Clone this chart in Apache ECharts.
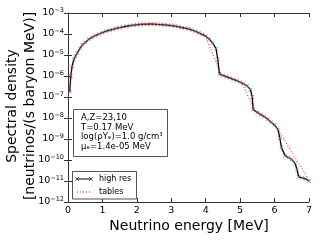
<!DOCTYPE html>
<html><head><meta charset="utf-8">
<script src="https://cdn.jsdelivr.net/npm/echarts@6/dist/echarts.min.js"></script>
<style>html,body{margin:0;padding:0;background:#fff}#c{width:320px;height:240px}</style>
</head><body><div id="c"></div>
<script>
// High resolution spectrum: energy [MeV] and spectral density
var hiE = [0.05,0.08,0.12,0.17,0.22,0.27,0.35,0.42,0.5,0.61,0.7,0.8,0.9,1.0,1.1,1.2,1.3,1.4,1.5,1.6,1.7,1.8,1.9,2.0,2.1,2.2,2.3,2.4,2.5,2.6,2.7,2.8,2.9,3.0,3.1,3.2,3.3,3.4,3.5,3.6,3.7,3.8,3.9,4.0,4.1,4.2,4.3,4.35,4.4,4.5,4.6,4.7,4.8,4.9,5.0,5.1,5.2,5.3,5.35,5.38,5.5,5.6,5.7,5.8,5.9,6.0,6.1,6.15,6.2,6.3,6.4,6.5,6.6,6.65,6.7,6.8,6.9,7.0];
var hiY = [1.78e-7,1.0e-6,2.95e-6,6.03e-6,8.91e-6,1.26e-5,2.09e-5,3.09e-5,3.98e-5,5.75e-5,6.92e-5,8.51e-5,1.0e-4,1.17e-4,1.35e-4,1.51e-4,1.66e-4,1.86e-4,2.0e-4,2.19e-4,2.34e-4,2.51e-4,2.63e-4,2.75e-4,2.88e-4,2.95e-4,2.95e-4,3.02e-4,2.95e-4,2.88e-4,2.82e-4,2.75e-4,2.63e-4,2.51e-4,2.40e-4,2.24e-4,2.04e-4,1.91e-4,1.74e-4,1.55e-4,1.35e-4,1.15e-4,9.55e-5,7.94e-5,5.75e-5,3.72e-5,2.0e-5,6.31e-6,1.26e-6,1.07e-6,9.33e-7,8.13e-7,6.92e-7,6.03e-7,5.13e-7,4.27e-7,3.39e-7,2.24e-7,1.0e-7,2.51e-8,1.86e-8,1.45e-8,1.17e-8,8.71e-9,6.31e-9,4.68e-9,2.82e-9,1.12e-9,3.98e-10,1.66e-10,1.32e-10,1.05e-10,6.76e-11,3.55e-11,1.58e-11,1.41e-11,1.26e-11,1.0e-11];
// Table-interpolated spectrum
var tabE = [0.06,0.1,0.2,0.35,0.5,0.75,1.0,1.5,2.0,2.5,3.0,3.5,4.0,4.45,4.75,5.05,5.42,5.75,6.07,7.0];
var tabY = [2.0e-7,1.78e-6,7.59e-6,2.0e-5,3.8e-5,7.41e-5,1.15e-4,2.0e-4,2.75e-4,2.95e-4,2.51e-4,1.7e-4,7.59e-5,1.12e-6,7.59e-7,4.68e-7,2.24e-8,1.0e-8,3.31e-9,1.12e-11];
var xTicks = [0,1,2,3,4,5,6,7];
var yExps = [-3,-4,-5,-6,-7,-8,-9,-10,-11,-12];
var infoLines = ['A,Z=23,10','T=0.17 MeV','log(\u03C1Y\u2091)=1.0 g/cm\u00B3','\u03BC\u2091=1.4e-05 MeV'];
var legendNames = ['high res','tables'];
var xTitle = 'Neutrino energy [MeV]';
var yTitle1 = 'Spectral density';
var yTitle2 = '[neutrinos/(s baryon MeV)]';

function pairs(a,b){return a.map(function(v,i){return [v,b[i]];});}
var FONT = 'DejaVu Sans';
var FRAME = '#333';
var crossPath = 'path://M0,1L1,0L5,4L9,0L10,1L6,5L10,9L9,10L5,6L1,10L0,9L4,5Z';

var chart = echarts.init(document.getElementById('c'), null, {renderer:'canvas'});
var L=68, R=309, T=13, B=202;
var yLab = function(v){var e=Math.round(Math.log10(v)); return '{b|10}{s|\u2212'+Math.abs(e)+'}';};
function cross(cx,cy){
  return [{type:'line',shape:{x1:cx-2,y1:cy-2,x2:cx+2,y2:cy+2},style:{stroke:'#333',lineWidth:0.8},z:12},
          {type:'line',shape:{x1:cx-2,y1:cy+2,x2:cx+2,y2:cy-2},style:{stroke:'#333',lineWidth:0.8},z:12}];
}
var gr = [
  {type:'text',x:189,y:226,style:{text:xTitle,font:'14px '+FONT,fill:'#000',textAlign:'center',textVerticalAlign:'middle'}},
  {type:'text',x:12,y:106,rotation:Math.PI/2,style:{text:yTitle1,font:'14px '+FONT,fill:'#000',textAlign:'center',textVerticalAlign:'middle'}},
  {type:'text',x:30,y:106,rotation:Math.PI/2,style:{text:yTitle2,font:'14px '+FONT,fill:'#000',textAlign:'center',textVerticalAlign:'middle'}},
  {type:'rect',shape:{x:73.5,y:109.5,width:94,height:47},style:{fill:'#fff',stroke:'#555',lineWidth:1},z:10},
  {type:'rect',shape:{x:72.5,y:171.5,width:64,height:27.5},style:{fill:'#fff',stroke:'#555',lineWidth:1},z:10},
  {type:'line',shape:{x1:77,y1:179,x2:91,y2:179},style:{stroke:'#000',lineWidth:1},z:11},
  {type:'line',shape:{x1:77,y1:192,x2:91,y2:192},style:{stroke:'#ff0000',lineWidth:1,lineDash:[1,2]},z:11},
  {type:'text',x:99,y:179,style:{text:legendNames[0],font:'8px '+FONT,fill:'#000',textVerticalAlign:'middle'},z:11},
  {type:'text',x:99,y:192,style:{text:legendNames[1],font:'8px '+FONT,fill:'#000',textVerticalAlign:'middle'},z:11}
];
gr = gr.concat(cross(77,179), cross(91,179));
infoLines.forEach(function(s,i){gr.push({type:'text',x:81,y:117.7+i*9.6,style:{text:s,font:'8.5px '+FONT,fill:'#000',textVerticalAlign:'middle'},z:11});});
var option = {
  animation:false,
  grid:{left:L,right:320-R,top:T,bottom:240-B,containLabel:false},
  xAxis:[{type:'value',min:0,max:7,interval:1,
    axisLine:{show:true,lineStyle:{color:FRAME,width:1}},
    axisTick:{show:true,inside:true,length:4,lineStyle:{color:FRAME}},
    axisLabel:{show:true,fontFamily:FONT,fontSize:9.5,color:'#000',margin:4,
      formatter:function(v){return xTicks.indexOf(v)>=0?String(v):'';}},
    splitLine:{show:false}},
   {type:'value',position:'top',min:0,max:7,interval:1,
    axisLine:{show:true,lineStyle:{color:FRAME,width:1}},
    axisTick:{show:true,inside:true,length:4,lineStyle:{color:FRAME}},
    axisLabel:{show:false},splitLine:{show:false}}],
  yAxis:[{type:'log',logBase:10,min:1e-12,max:1e-3,interval:1,
    axisLine:{show:true,lineStyle:{color:FRAME,width:1}},
    axisTick:{show:true,inside:true,length:4,lineStyle:{color:FRAME}},
    minorTick:{show:false},
    axisLabel:{show:true,margin:4,formatter:yLab,color:'#000',
      rich:{b:{fontFamily:FONT,fontSize:9.5,color:'#000'},
            s:{fontFamily:FONT,fontSize:6.5,color:'#000',verticalAlign:'top',padding:[0,0,6,0]}}},
    splitLine:{show:false}},
   {type:'log',logBase:10,min:1e-12,max:1e-3,interval:1,position:'right',
    axisLine:{show:true,lineStyle:{color:FRAME,width:1}},
    axisTick:{show:true,inside:true,length:4,lineStyle:{color:FRAME}},
    axisLabel:{show:false},splitLine:{show:false}}],
  series:[
    {name:legendNames[0],type:'line',data:pairs(hiE,hiY),xAxisIndex:0,yAxisIndex:0,
     symbol:crossPath,symbolSize:4,showAllSymbol:true,
     itemStyle:{color:'#777'},lineStyle:{color:'#000',width:1.3},z:2},
    {name:legendNames[1],type:'line',data:pairs(tabE,tabY),xAxisIndex:0,yAxisIndex:0,
     symbol:'none',lineStyle:{color:'#ff0000',width:1,type:[1,2]},z:3}
  ],
  graphic:gr
};
chart.setOption(option);
</script></body></html>
